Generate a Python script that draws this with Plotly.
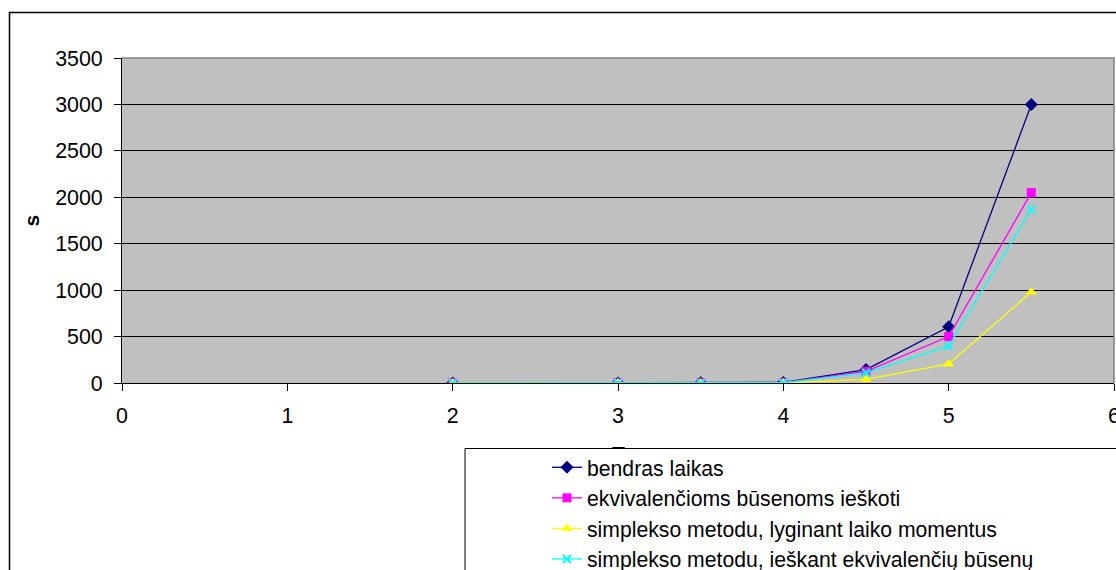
import plotly.graph_objects as go

# ---- data ----
x_vals = [2, 3, 3.5, 4, 4.5, 5, 5.5]
bendras_laikas = [0.5, 1, 2, 6, 145, 605, 3000]
ekvivalencioms = [0.3, 0.6, 1, 4, 125, 500, 2050]
simplekso_lyginant = [0.1, 0.2, 0.4, 1, 40, 205, 980]
simplekso_ieskant = [0.2, 0.4, 0.8, 3, 110, 400, 1870]

series_names = [
    "bendras laikas",
    "ekvivalenčioms būsenoms ieškoti",
    "simplekso metodu, lyginant laiko momentus",
    "simplekso metodu, ieškant ekvivalenčių būsenų",
]
x_title = "T"
y_title = "s"
x_range = [0, 6]
y_range = [0, 3500]

FONT = "Liberation Sans, Arial, sans-serif"
W, H = 1116, 570
# plot area in page pixels: x 122..1114, y 58..383
ML, MT = 122, 58
MR = W - 1114
MB = H - 383
PW, PH = W - ML - MR, H - MT - MB


def px_x(p):  # page pixel -> paper coordinate
    return (p - ML) / PW


def px_y(p):
    return (H - MB - p) / PH


fig = go.Figure()

styles = [
    dict(color="#000080", symbol="diamond", size=10, lw=1.3),
    dict(color="#FF00FF", symbol="square", size=9, lw=1.3),
    dict(color="#FFFF00", symbol="triangle-up", size=10, lw=1.3),
    dict(color="#00FFFF", symbol="x-thin", size=8, lw=1.3),
]
for name, vals, st in zip(series_names,
                          [bendras_laikas, ekvivalencioms, simplekso_lyginant, simplekso_ieskant],
                          styles):
    marker = dict(color=st["color"], symbol=st["symbol"], size=st["size"])
    if st["symbol"] == "x-thin":
        marker["line"] = dict(color=st["color"], width=2)
    fig.add_trace(go.Scatter(
        x=x_vals, y=vals, name=name, mode="lines+markers",
        line=dict(color=st["color"], width=st["lw"]),
        marker=marker,
    ))

fig.update_layout(
    width=W, height=H,
    margin=dict(l=ML, r=MR, t=MT, b=MB, autoexpand=False),
    paper_bgcolor="white",
    plot_bgcolor="#C0C0C0",
    font=dict(family=FONT, size=21, color="black"),
    showlegend=True,
    legend=dict(
        x=px_x(547), y=px_y(447), xanchor="left", yanchor="top",
        bgcolor="rgba(0,0,0,0)", borderwidth=0,
        font=dict(family=FONT, size=21.2, color="black"),
    ),
    xaxis=dict(
        range=x_range, dtick=1, showgrid=False, zeroline=False,
        showline=True, linecolor="black", linewidth=1,
        ticks="outside", ticklen=7, tickcolor="black",
        ticklabelstandoff=6, ticklabeloverflow="allow",
        tickfont=dict(family=FONT, size=21.4, color="black"),
    ),
    yaxis=dict(
        range=y_range, dtick=500, showgrid=True, gridcolor="black", gridwidth=1,
        zeroline=False, showline=True, linecolor="black", linewidth=1,
        ticks="outside", ticklen=7, tickcolor="black",
        ticklabelstandoff=7,
        tickfont=dict(family=FONT, size=21.4, color="black"),
    ),
    annotations=[
        dict(text=f"<b>{y_title}</b>", textangle=-90, showarrow=False,
             xref="paper", yref="paper", x=px_x(31), y=0.5,
             xanchor="center", yanchor="middle",
             font=dict(family=FONT, size=21, color="black")),
        dict(text=f"<b>{x_title}</b>", showarrow=False,
             xref="paper", yref="paper", x=0.5, y=px_y(440),
             xanchor="center", yanchor="top",
             font=dict(family=FONT, size=21, color="black")),
    ],
    shapes=[
        # plot-area border (top & right) in grey
        dict(type="path", xref="paper", yref="paper",
             path="M 0,1 L 1,1 L 1,0", line=dict(color="#808080", width=1.5), layer="above"),
        # outer chart border
        dict(type="rect", xref="paper", yref="paper",
             x0=px_x(9.5), x1=px_x(1200), y0=px_y(12.5), y1=px_y(700),
             line=dict(color="black", width=1.5), fillcolor="rgba(0,0,0,0)", layer="above"),
        # legend box
        dict(type="rect", xref="paper", yref="paper",
             x0=px_x(465), x1=px_x(1200), y0=px_y(448.5), y1=px_y(700),
             line=dict(color="black", width=1), fillcolor="white", layer="above"),
    ],
)

# page styling; the x-axis title is placed beneath the legend box, as in the original
post_js = """
document.body.style.margin='0';
document.body.style.overflow='hidden';
try {
  var t = document.querySelector('.infolayer .annotation[data-index="1"]');
  var la = document.querySelector('.main-svg .layer-above');
  if (t && la) { la.parentNode.insertBefore(t, la); }
} catch (e) {}
"""

fig.write_html("out.html", config={"displayModeBar": False}, post_script=post_js)
